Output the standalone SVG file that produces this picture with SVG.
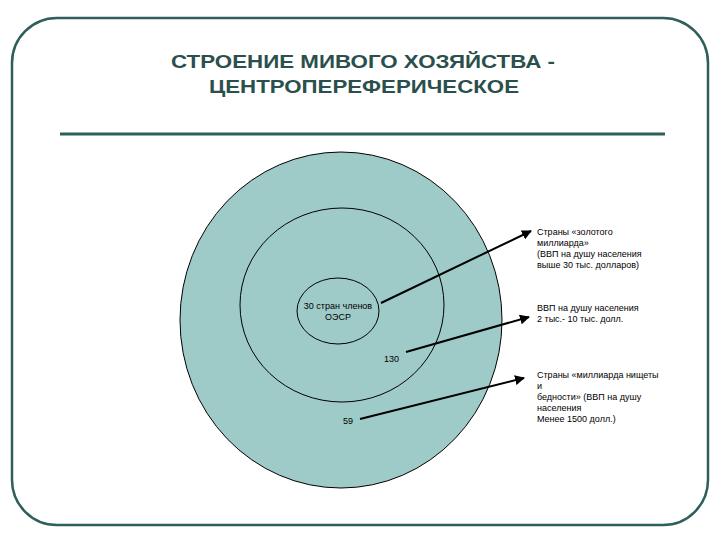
<svg xmlns="http://www.w3.org/2000/svg" width="720" height="540" viewBox="0 0 720 540">
<style>
.t{font-family:"Liberation Sans",Arial,sans-serif;font-size:9px;fill:#000}
.c{fill:none;stroke:#000;stroke-width:1}
.l{stroke:#000;stroke-width:2;marker-end:url(#a)}
</style>
<defs><marker id="a" viewBox="0 0 10 10" refX="9" refY="5" markerWidth="5" markerHeight="5" orient="auto"><path d="M0 0L10 5L0 10z" fill="#000"/></marker></defs>
<rect width="720" height="540" fill="#fff"/>
<rect x="12" y="18" width="696" height="507" rx="45" fill="none" stroke="#2f5f5a" stroke-width="2.5"/>
<g id="title" font-family="'Liberation Sans',Arial,sans-serif" font-weight="bold" font-size="19" fill="#2b4f4c" text-anchor="middle">
<text x="363" y="68" textLength="384" lengthAdjust="spacingAndGlyphs">СТРОЕНИЕ МИВОГО ХОЗЯЙСТВА -</text>
<text x="364" y="93" textLength="310" lengthAdjust="spacingAndGlyphs">ЦЕНТРОПЕРЕФЕРИЧЕСКОЕ</text>
</g>
<line x1="60" y1="134" x2="665" y2="134" stroke="#2f5f5a" stroke-width="3"/>
<g id="outer"><ellipse cx="341" cy="320" rx="161" ry="168" fill="#9ecbc8" stroke="#000"/></g>
<g id="middle"><ellipse cx="342" cy="305" rx="102" ry="97" class="c"/></g>
<g id="inner"><ellipse cx="338" cy="311" rx="41" ry="33" class="c"/>
<text class="t" x="338" y="309" text-anchor="middle">30 стран членов</text>
<text class="t" x="338" y="320" text-anchor="middle">ОЭСР</text></g>
<g id="n130"><text class="t" x="384" y="362">130</text></g>
<g id="n59"><text class="t" x="343" y="424">59</text></g>
<g id="connectors">
<line class="l" x1="381" y1="303" x2="531" y2="231"/>
<line class="l" x1="406" y1="352" x2="529" y2="317"/>
<line class="l" x1="360" y1="419" x2="524" y2="378"/>
</g>
<g id="label1"><text class="t" x="537" y="235">Страны  «золотого</text><text class="t" x="537" y="246">миллиарда»</text><text class="t" x="537" y="257">(ВВП на душу населения</text><text class="t" x="537" y="268">выше 30 тыс. долларов)</text></g>
<g id="label2"><text class="t" x="537" y="311">ВВП на душу населения</text><text class="t" x="537" y="322">2 тыс.- 10 тыс. долл.</text></g>
<g id="label3"><text class="t" x="537" y="378">Страны «миллиарда нищеты</text><text class="t" x="537" y="389">и</text><text class="t" x="537" y="400">бедности» (ВВП на душу</text><text class="t" x="537" y="411">населения</text><text class="t" x="537" y="422"> Менее 1500 долл.)</text></g>
</svg>
